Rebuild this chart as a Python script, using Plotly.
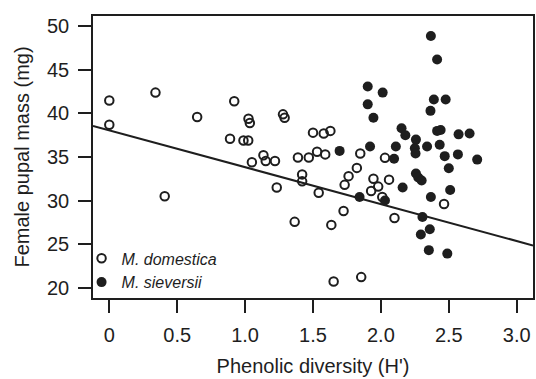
import plotly.graph_objects as go

# M. domestica (open circles): phenolic diversity H', female pupal mass (mg)
dom_x = [0.00, 0.00, 0.34, 0.647, 0.92, 0.889, 0.988, 1.023, 1.025, 1.035,
         1.279, 1.291, 0.408, 1.05, 1.135, 1.152, 1.22, 1.389, 1.469, 1.53,
         1.59, 1.50, 1.579, 1.628, 1.848, 1.42, 1.42, 1.233, 1.542, 1.733,
         1.762, 1.823, 1.945, 1.928, 1.725, 1.365, 1.635, 1.652, 1.855, 2.03,
         2.06, 1.98, 2.01, 2.10, 2.465]
dom_y = [41.5, 38.7, 42.4, 39.6, 41.4, 37.1, 36.9, 36.9, 39.4, 38.9,
         39.9, 39.5, 30.5, 34.4, 35.2, 34.55, 34.55, 34.94, 34.94, 35.6,
         35.3, 37.8, 37.7, 38.0, 35.4, 33.0, 32.2, 31.5, 30.9, 31.8,
         32.8, 33.75, 32.5, 31.1, 28.8, 27.55, 27.2, 20.7, 21.2, 34.9,
         32.4, 31.6, 30.4, 28.0, 29.6]

# M. sieversii (filled circles)
sie_x = [2.368, 2.414, 1.903, 2.013, 1.903, 1.945, 2.39, 2.477, 2.365, 2.152,
         2.18, 2.258, 2.414, 2.44, 2.572, 2.653, 1.92, 2.11, 2.25, 2.255,
         2.34, 2.433, 2.47, 2.567, 2.709, 2.097, 1.696, 2.50, 2.258, 2.275,
         2.30, 2.16, 2.51, 2.368, 2.03, 1.843, 2.306, 2.36, 2.294, 2.353,
         2.489]
sie_y = [48.9, 46.2, 43.1, 42.4, 41.05, 39.5, 41.6, 41.6, 40.3, 38.3,
         37.5, 37.0, 38.0, 38.1, 37.6, 37.7, 36.2, 36.2, 36.0, 35.4,
         36.2, 36.4, 35.1, 35.3, 34.7, 34.8, 35.7, 33.7, 33.1, 32.65,
         32.3, 31.5, 31.2, 30.4, 30.0, 30.4, 28.1, 26.7, 26.1, 24.3,
         23.9]

# Fitted regression line (all points)
fit_intercept = 38.07
fit_slope = -4.24

x_ticks = [0, 0.5, 1.0, 1.5, 2.0, 2.5, 3.0]
x_tick_labels = ["0", "0.5", "1.0", "1.5", "2.0", "2.5", "3.0"]
y_ticks = [20, 25, 30, 35, 40, 45, 50]

x_range = [-0.12, 3.12]
y_range = [18.8, 51.2]

INK = "#1e1e1e"
FONT = "Liberation Sans, Arial, Helvetica, sans-serif"

fig = go.Figure()

line_x = list(x_range)
line_y = [fit_intercept + fit_slope * v for v in line_x]
fig.add_trace(go.Scatter(
    x=line_x, y=line_y, mode="lines",
    line=dict(color=INK, width=2), showlegend=False, hoverinfo="skip"))

fig.add_trace(go.Scatter(
    x=dom_x, y=dom_y, mode="markers", name="<i>M. domestica</i>",
    marker=dict(symbol="circle-open", size=8.5, color=INK,
                line=dict(color=INK, width=2))))

fig.add_trace(go.Scatter(
    x=sie_x, y=sie_y, mode="markers", name="<i>M. sieversii</i>",
    marker=dict(symbol="circle", size=10, color=INK,
                line=dict(width=0))))

axis_common = dict(
    showline=True, linecolor=INK, linewidth=1.6, mirror=True,
    ticks="outside", ticklen=13, tickwidth=1.6, tickcolor=INK,
    showgrid=False, zeroline=False,
    tickfont=dict(family=FONT, size=20, color=INK),
)

fig.update_xaxes(
    range=x_range, tickvals=x_ticks, ticktext=x_tick_labels,
    title=dict(text="Phenolic diversity (H')", font=dict(family=FONT, size=20, color=INK), standoff=14),
    ticklabelstandoff=5,
    **axis_common)
fig.update_yaxes(
    range=y_range, tickvals=y_ticks,
    title=dict(text="Female pupal mass (mg)", font=dict(family=FONT, size=20, color=INK), standoff=12),
    ticklabelstandoff=5,
    **axis_common)

fig.update_layout(
    width=536, height=379,
    margin=dict(l=93, r=1, t=16, b=81),
    plot_bgcolor="white", paper_bgcolor="white",
    font=dict(family=FONT, color=INK),
    legend=dict(x=-0.026, y=-0.005, xanchor="left", yanchor="bottom",
                bgcolor="rgba(0,0,0,0)", font=dict(family=FONT, size=16, color=INK),
                itemwidth=30, tracegroupgap=0),
)

fig.write_html("out.html")
